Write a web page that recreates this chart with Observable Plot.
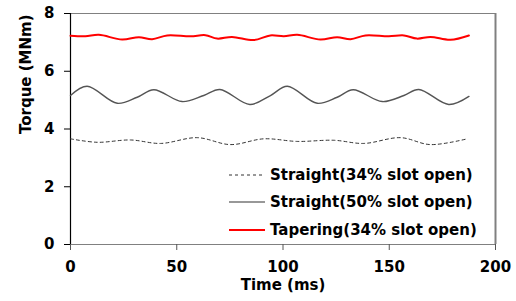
<!DOCTYPE html>
<html>
<head>
<meta charset="utf-8">
<script src="https://cdn.jsdelivr.net/npm/d3@7"></script>
<script src="https://cdn.jsdelivr.net/npm/@observablehq/plot@0.6"></script>
<style>
  html, body { margin: 0; padding: 0; background: #fff; }
  #wrap { position: relative; width: 516px; height: 301px; font-family: "DejaVu Sans", sans-serif; }
  #legend { position: absolute; left: 229px; top: 161px; font-weight: bold; font-size: 15px; color: #000; }
  #legend .row { display: flex; align-items: center; height: 27.5px; white-space: nowrap; }
  #legend svg { margin-right: 5px; }
</style>
</head>
<body>
<div id="wrap"></div>
<script>
// Time (ms)
const tapT = [0, 7, 13.3, 24.3, 32.2, 38.4, 45.5, 56.5, 63.5, 69, 76, 86.3, 94, 100.4, 106.7, 117.6, 125.5, 131.8, 138.8, 149.8, 156.9, 163, 169.4, 178.8, 187.5];
const tapV = [7.23, 7.21, 7.26, 7.10, 7.18, 7.11, 7.24, 7.21, 7.25, 7.13, 7.19, 7.08, 7.24, 7.21, 7.26, 7.10, 7.18, 7.11, 7.24, 7.21, 7.24, 7.13, 7.19, 7.09, 7.24];

const s50T = [0, 7.8, 22, 31.4, 39.2, 52.5, 62.7, 70.3, 84.4, 94.1, 102, 116.1, 125.5, 133, 146.7, 156.9, 163.9, 178, 187.5];
const s50V = [5.16, 5.48, 4.89, 5.10, 5.36, 4.95, 5.16, 5.37, 4.85, 5.16, 5.48, 4.89, 5.10, 5.36, 4.95, 5.16, 5.37, 4.85, 5.13];

const s34T = [0, 12.5, 28.2, 42.4, 59.6, 75.3, 91, 106.7, 123.9, 138, 155.3, 169.4, 186.7];
const s34V = [3.66, 3.54, 3.62, 3.50, 3.70, 3.46, 3.66, 3.57, 3.61, 3.50, 3.70, 3.46, 3.66];

const xTicks = [0, 50, 100, 150, 200];
const yTicks = [0, 2, 4, 6, 8];
const seriesNames = ["Straight(34% slot open)", "Straight(50% slot open)", "Tapering(34% slot open)"];
const xLabel = "Time (ms)";
const yLabel = "Torque (MNm)";

const tap = tapT.map((t, i) => ({t, v: tapV[i]}));
const s50 = s50T.map((t, i) => ({t, v: s50V[i]}));
const s34 = s34T.map((t, i) => ({t, v: s34V[i]}));

const font = "DejaVu Sans, sans-serif";

const chart = Plot.plot({
  width: 516,
  height: 301,
  marginLeft: 70,
  marginRight: 21,
  marginTop: 13,
  marginBottom: 57,
  style: { fontFamily: font, fontSize: "15px", fontWeight: "bold", color: "#000", background: "#fff" },
  x: { domain: [0, 200], ticks: xTicks, label: null },
  y: { domain: [0, 8], ticks: yTicks, label: null },
  marks: [
    Plot.ruleY([8], { stroke: "#808080", strokeWidth: 1 }),
    Plot.ruleX([200], { stroke: "#808080", strokeWidth: 2 }),
    Plot.ruleY([0], { stroke: "#808080", strokeWidth: 1.2 }),
    Plot.ruleX([0], { stroke: "#000", strokeWidth: 1.2 }),
    Plot.axisX({ ticks: xTicks, tickSize: 6, tickPadding: 11, stroke: "#555", fill: "#000", fontSize: 15, fontWeight: "bold", label: null }),
    Plot.axisY({ ticks: yTicks, tickSize: 6, tickPadding: 10, stroke: "#000", fill: "#000", fontSize: 15, fontWeight: "bold", label: null }),
    Plot.text([xLabel], { frameAnchor: "bottom", dy: 45, fontSize: 15, fontWeight: "bold", fill: "#000" }),
    Plot.text([yLabel], { frameAnchor: "left", dx: -44, dy: 5, rotate: -90, fontSize: 15, fontWeight: "bold", fill: "#000" }),
    Plot.line(s34, { x: "t", y: "v", curve: "catmull-rom", stroke: "#333", strokeWidth: 1, strokeDasharray: "3,3" }),
    Plot.line(s50, { x: "t", y: "v", curve: "catmull-rom", stroke: "#555", strokeWidth: 1.4 }),
    Plot.line(tap, { x: "t", y: "v", curve: "catmull-rom", stroke: "#ff0000", strokeWidth: 2 })
  ]
});

const wrap = document.getElementById("wrap");
wrap.appendChild(chart);

const styles = [
  { stroke: "#333", width: 1, dash: "3,3" },
  { stroke: "#333", width: 1.2, dash: null },
  { stroke: "#ff0000", width: 2, dash: null }
];
const legend = document.createElement("div");
legend.id = "legend";
seriesNames.forEach((name, i) => {
  const row = document.createElement("div");
  row.className = "row";
  const st = styles[i];
  row.innerHTML = `<svg width="36" height="6"><line x1="0" y1="3" x2="36" y2="3" stroke="${st.stroke}" stroke-width="${st.width}" ${st.dash ? `stroke-dasharray="${st.dash}"` : ""}/></svg><span>${name}</span>`;
  legend.appendChild(row);
});
wrap.appendChild(legend);
</script>
</body>
</html>
